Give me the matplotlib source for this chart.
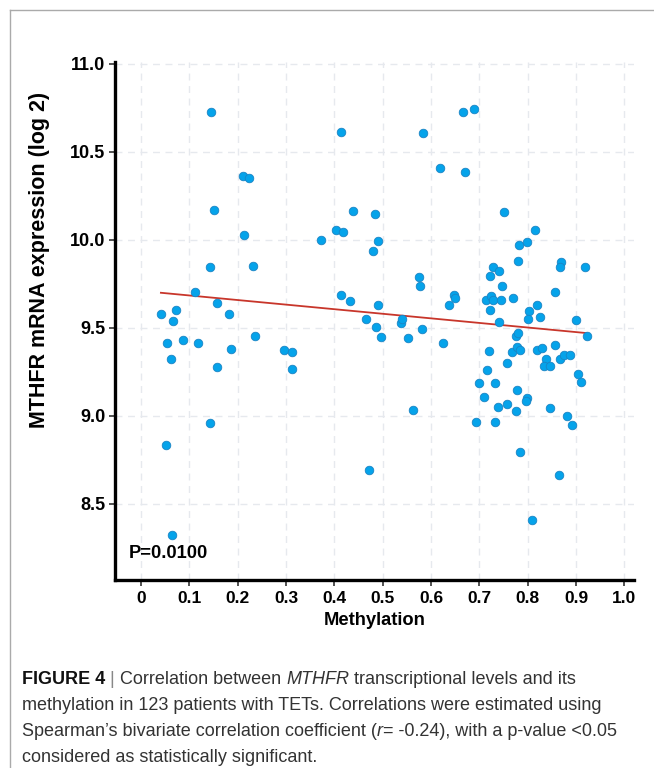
import numpy as np
import matplotlib.pyplot as plt
from matplotlib.lines import Line2D

# methylation (x) and MTHFR expression (y)
methylation = [0.144, 0.211, 0.223, 0.150, 0.213, 0.372, 0.142, 0.231, 0.112, 0.157,
               0.041, 0.073, 0.067, 0.182, 0.235, 0.053, 0.086, 0.117, 0.062, 0.186,
               0.157, 0.295, 0.313, 0.312, 0.142, 0.052, 0.063,
               0.414, 0.583, 0.666, 0.689, 0.619, 0.671, 0.439, 0.483, 0.752,
               0.404, 0.418, 0.490, 0.480, 0.815, 0.781, 0.799, 0.780, 0.869, 0.866,
               0.919, 0.575, 0.577, 0.728, 0.721, 0.741, 0.746, 0.856, 0.414, 0.433,
               0.491, 0.647, 0.650, 0.638, 0.714, 0.724, 0.729, 0.744, 0.769, 0.721,
               0.740, 0.802, 0.819, 0.801, 0.826, 0.899, 0.465, 0.487, 0.537, 0.540,
               0.581, 0.496, 0.553, 0.776, 0.780, 0.922, 0.625, 0.719, 0.768, 0.778,
               0.784, 0.820, 0.830, 0.857, 0.757, 0.837, 0.833, 0.846, 0.866, 0.876,
               0.888, 0.715, 0.700, 0.733, 0.904, 0.910, 0.710, 0.777, 0.739, 0.757,
               0.798, 0.797, 0.775, 0.846, 0.563, 0.694, 0.733, 0.882, 0.891, 0.785,
               0.471, 0.865, 0.808]
expression = [10.726, 10.365, 10.354, 10.169, 10.030, 9.998, 9.848, 9.854, 9.706, 9.644,
              9.581, 9.600, 9.540, 9.581, 9.455, 9.413, 9.430, 9.413, 9.324, 9.381,
              9.277, 9.373, 9.364, 9.269, 8.958, 8.833, 8.324,
              10.610, 10.604, 10.727, 10.741, 10.407, 10.383, 10.165, 10.144, 10.159,
              10.053, 10.047, 9.996, 9.939, 10.053, 9.968, 9.985, 9.881, 9.875, 9.843,
              9.845, 9.788, 9.737, 9.843, 9.797, 9.822, 9.737, 9.701, 9.686, 9.652,
              9.631, 9.689, 9.672, 9.631, 9.661, 9.680, 9.659, 9.657, 9.672, 9.600,
              9.536, 9.595, 9.631, 9.549, 9.563, 9.547, 9.553, 9.506, 9.528, 9.551,
              9.496, 9.449, 9.445, 9.455, 9.470, 9.453, 9.415, 9.371, 9.362, 9.394,
              9.377, 9.377, 9.383, 9.402, 9.299, 9.326, 9.282, 9.286, 9.322, 9.345,
              9.345, 9.263, 9.186, 9.186, 9.237, 9.191, 9.108, 9.148, 9.053, 9.068,
              9.100, 9.085, 9.030, 9.044, 9.034, 8.966, 8.966, 9.000, 8.949, 8.797,
              8.691, 8.667, 8.407]

# fitted line as drawn in the figure
fit_slope = -0.26
fit_intercept = 9.71

x_ticks = [0, 0.1, 0.2, 0.3, 0.4, 0.5, 0.6, 0.7, 0.8, 0.9, 1.0]
x_ticklabels = ['0', '0.1', '0.2', '0.3', '0.4', '0.5', '0.6', '0.7', '0.8', '0.9', '1.0']
y_ticks = [8.5, 9.0, 9.5, 10.0, 10.5, 11.0]

caption_lines = [
    [('FIGURE 4', 'bold', 'normal', '#111111'), (' | ', 'normal', 'normal', '#888888'),
     ('Correlation between ', 'normal', 'normal', '#333333'),
     ('MTHFR', 'normal', 'italic', '#333333'),
     (' transcriptional levels and its', 'normal', 'normal', '#333333')],
    [('methylation in 123 patients with TETs. Correlations were estimated using',
      'normal', 'normal', '#333333')],
    [('Spearman\u2019s bivariate correlation coefficient (', 'normal', 'normal', '#333333'),
     ('r', 'normal', 'italic', '#333333'),
     ('= -0.24), with a p-value <0.05', 'normal', 'normal', '#333333')],
    [('considered as statistically significant.', 'normal', 'normal', '#333333')],
]

W, H = 654, 768
fig = plt.figure(figsize=(W / 100, H / 100), dpi=100)
plt.rcParams['font.family'] = ['Liberation Sans', 'DejaVu Sans']

ax = fig.add_axes([115 / W, 1 - 580 / H, (634 - 115) / W, (580 - 62) / H])
ax.set_xlim(-0.054, 1.02)
ax.set_ylim(8.068, 11.01)

ax.grid(True, color='#e6e9ee', linestyle=(0, (5, 4)), linewidth=1.0)
ax.set_axisbelow(True)

xs = np.array([min(methylation), max(methylation)])
ax.plot(xs, fit_intercept + fit_slope * xs, color='#c8362b', linewidth=1.3, zorder=2)
ax.scatter(methylation, expression, s=38, color='#05a3ea', edgecolors='#1a84c4',
           linewidths=0.6, zorder=3)

for side in ['top', 'right']:
    ax.spines[side].set_visible(False)
for side in ['left', 'bottom']:
    ax.spines[side].set_linewidth(2.4)
    ax.spines[side].set_color('black')

ax.set_xticks(x_ticks)
ax.set_xticklabels(x_ticklabels)
ax.set_yticks(y_ticks)
ax.set_yticklabels(['{:.1f}'.format(v) for v in y_ticks])
ax.tick_params(axis='both', length=4, width=1.2, color='#333333', pad=4)
ax.tick_params(axis='x', labelsize=12.5)
ax.tick_params(axis='y', labelsize=13, pad=3)
for lab in ax.get_xticklabels() + ax.get_yticklabels():
    lab.set_fontweight('bold')

ax.set_xlabel('Methylation', fontsize=13.2, fontweight='bold', labelpad=4)
ax.set_ylabel('MTHFR mRNA expression (log 2)', fontsize=15.5, fontweight='bold')
ax.yaxis.set_label_coords((50 - 115) / 519, (580 - 260) / 518)

ax.text(-0.026, 8.22, 'P=0.0100', fontsize=13.2, fontweight='bold', ha='left', va='center')

# grey frame around the figure panel
fig.add_artist(Line2D([10 / W, 1], [1 - 10 / H, 1 - 10 / H], color='#aaaaaa', linewidth=1))
fig.add_artist(Line2D([10 / W, 10 / W], [0, 1 - 10 / H], color='#aaaaaa', linewidth=1))

# caption with mixed styles
renderer = fig.canvas.get_renderer()
line_y = [679, 706, 732, 757]
for pieces, yy in zip(caption_lines, line_y):
    x_px = 22
    for txt, weight, style, col in pieces:
        t = fig.text(x_px / W, 1 - yy / H, txt, fontsize=13, fontweight=weight,
                     fontstyle=style, color=col, ha='left', va='center')
        bb = t.get_window_extent(renderer=renderer)
        x_px += bb.width

fig.savefig('out.png', dpi=100)
